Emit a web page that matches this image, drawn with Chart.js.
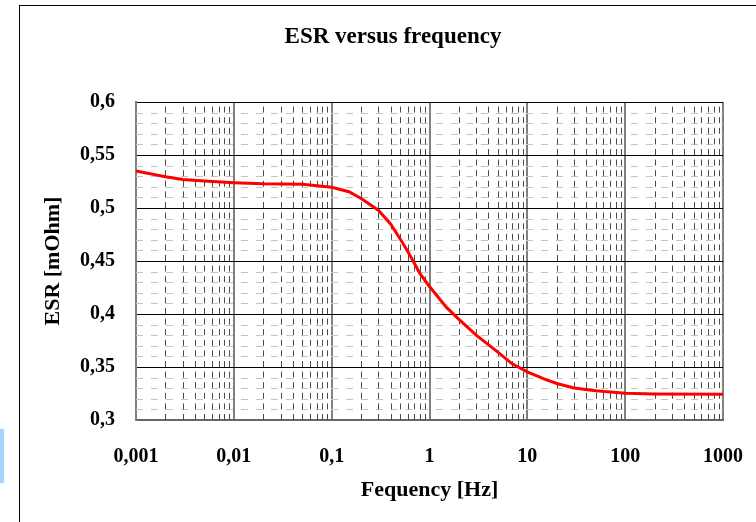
<!DOCTYPE html>
<html>
<head>
<meta charset="utf-8">
<script src="https://cdn.jsdelivr.net/npm/chart.js@4.4.1/dist/chart.umd.min.js"></script>
<style>
    body { margin: 0; background: #ffffff; }
    #wrap { position: relative; width: 756px; height: 522px; overflow: hidden; }
    #graph { position: absolute; left: 0; top: 0; }
    .frame { position: absolute; left: 19px; top: 5px; width: 800px; height: 600px; border-left: 1px solid #000; border-top: 1px solid #000; }
    .marker { position: absolute; left: 0; top: 429px; width: 4px; height: 54px; background: #a6d4ff; }
</style>
</head>
<body>
<div id="wrap">
    <div class="frame"></div>
    <div class="marker"></div>
    <canvas id="graph" width="756" height="522"></canvas>
</div>
<script>
// values
const freqs = [0.001, 0.002, 0.003, 0.005, 0.01, 0.02, 0.05, 0.1, 0.15, 0.2, 0.3, 0.4, 0.5, 0.6, 0.7, 0.8,
    1, 1.5, 2, 3, 5, 7, 10, 15, 20, 30, 50, 100, 200, 1000]
const esr = [0.535, 0.5296, 0.527, 0.5255, 0.524, 0.523, 0.5225, 0.5196, 0.5154, 0.509, 0.498, 0.485, 0.471, 0.459, 0.448, 0.438,
    0.426, 0.406, 0.395, 0.38, 0.364, 0.353, 0.3455, 0.3385, 0.3345, 0.3302, 0.3275, 0.3252, 0.3245, 0.3242]

const xTicks = [0.001, 0.01, 0.1, 1, 10, 100, 1000]
const xTickLabels = ["0,001", "0,01", "0,1", "1", "10", "100", "1000"]
const yTicks = [0.3, 0.35, 0.4, 0.45, 0.5, 0.55, 0.6]
const yTickLabels = ["0,3", "0,35", "0,4", "0,45", "0,5", "0,55", "0,6"]

// minor grid positions
const xMinor = []
for (let d = 0; d < xTicks.length - 1; d++) {
    for (let m = 2; m <= 9; m++) xMinor.push(xTicks[d] * m)
}
const yMinor = [0.31, 0.32, 0.33, 0.34, 0.36, 0.37, 0.38, 0.39, 0.41, 0.42, 0.43, 0.44,
    0.46, 0.47, 0.48, 0.49, 0.51, 0.52, 0.53, 0.54, 0.56, 0.57, 0.58, 0.59]

const serif = "'Liberation Serif', 'Times New Roman', serif"

const minorGrid = {
    id: "minorGrid",
    beforeDatasetsDraw(chart) {
        const {ctx, chartArea: a, scales: {x, y}} = chart
        ctx.save()
        ctx.lineWidth = 1
        ctx.strokeStyle = "#c4c4c4"
        ctx.setLineDash([7, 8])
        yMinor.forEach(v => {
            const py = Math.round(y.getPixelForValue(v)) + 0.5
            ctx.beginPath()
            ctx.moveTo(a.left, py)
            ctx.lineTo(a.right, py)
            ctx.stroke()
        })
        ctx.strokeStyle = "#4a4a4a"
        ctx.setLineDash([6, 4.6])
        xMinor.forEach(v => {
            const px = Math.round(x.getPixelForValue(v)) + 0.5
            ctx.beginPath()
            ctx.moveTo(px, a.bottom)
            ctx.lineTo(px, a.top)
            ctx.stroke()
        })
        ctx.restore()
    }
}

new Chart(document.getElementById("graph"), {
    type: "line",
    data: {
        datasets: [{
            label: "ESR",
            data: freqs.map((f, i) => ({x: f, y: esr[i]})),
            borderColor: "#ff0000",
            borderWidth: 3,
            pointRadius: 0,
            tension: 0,
            fill: false
        }]
    },
    options: {
        responsive: false,
        animation: false,
        layout: {
            padding: {left: 63, right: 33, top: 0, bottom: 2}
        },
        plugins: {
            legend: {display: false},
            tooltip: {enabled: false},
            title: {
                display: true,
                text: "ESR versus frequency",
                color: "#000",
                font: {family: serif, size: 23, weight: "bold"},
                padding: {top: 23.5, bottom: 51}
            }
        },
        scales: {
            x: {
                type: "logarithmic",
                min: 0.001,
                max: 1000,
                afterBuildTicks: s => { s.ticks = xTicks.map(v => ({value: v, major: true})) },
                afterFit: s => { s.height = 100 },
                ticks: {
                    autoSkip: false,
                    maxRotation: 0,
                    padding: 3,
                    color: "#000",
                    font: {family: serif, size: 20, weight: "bold"},
                    callback: (v, i) => xTickLabels[i]
                },
                grid: {color: "#808080", lineWidth: 2, drawTicks: true, tickLength: 22, tickColor: "rgba(0,0,0,0)"},
                border: {color: "#666666", width: 2},
                title: {
                    display: true,
                    text: "Fequency [Hz]",
                    color: "#000",
                    font: {family: serif, size: 22, weight: "bold"},
                    padding: {top: 0, bottom: 16}
                }
            },
            y: {
                min: 0.3,
                max: 0.6,
                afterBuildTicks: s => { s.ticks = yTicks.map(v => ({value: v})) },
                afterFit: s => { s.width = 73 },
                ticks: {
                    padding: 21,
                    color: "#000",
                    font: {family: serif, size: 20, weight: "bold"},
                    callback: (v, i) => yTickLabels[i]
                },
                grid: {color: "#000", lineWidth: 1, drawTicks: false},
                border: {color: "#808080", width: 2},
                title: {
                    display: true,
                    text: "ESR [mOhm]",
                    color: "#000",
                    font: {family: serif, size: 22, weight: "bold"},
                    padding: {top: -23.2, bottom: 0}
                }
            }
        }
    },
    plugins: [minorGrid]
})
</script>
</body>
</html>
